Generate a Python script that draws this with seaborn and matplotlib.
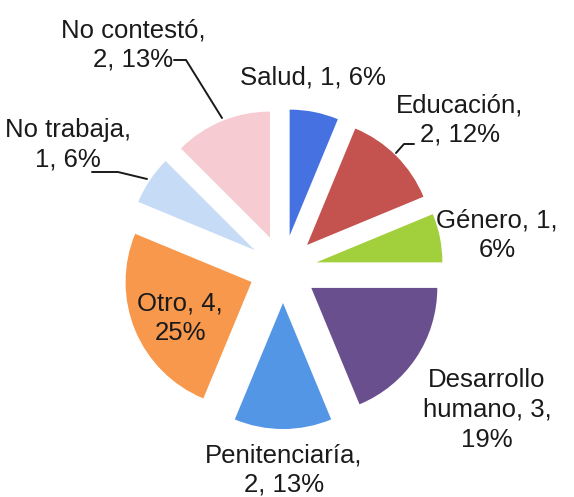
import matplotlib
matplotlib.use('Agg')
import matplotlib.pyplot as plt
import seaborn as sns

sns.set_theme(style='white')
plt.rcParams['font.family'] = ['Liberation Sans', 'DejaVu Sans']

# datos del gráfico
categorias = ['Salud', 'Educación', 'Género', 'Desarrollo humano',
              'Penitenciaría', 'Otro', 'No trabaja', 'No contestó']
valores = [1, 2, 1, 3, 2, 4, 1, 2]
porcentajes = ['6%', '12%', '6%', '19%', '13%', '25%', '6%', '13%']
colores = ['#4671E0', '#C4524E', '#A2CF3C', '#6A4F8F',
           '#5396E6', '#F7984C', '#C6DCF6', '#F6CBD1']

# textos de las etiquetas (con saltos como en el original)
etiquetas = ['Salud, {v}, {p}', 'Educación,\n{v}, {p}', 'Género, {v},\n{p}',
             'Desarrollo\nhumano, {v},\n{p}', 'Penitenciaría,\n{v}, {p}',
             'Otro, {v},\n{p}', 'No trabaja,\n{v}, {p}', 'No contestó,\n{v}, {p}']

CX, CY, R = 283, 269, 126


def px(x, y):
    """pixeles de la imagen -> coordenadas de datos"""
    return (x - CX) / R, (CY - y) / R


fig = plt.figure(figsize=(5.74, 4.97), dpi=100)
ax = fig.add_axes([0, 0, 1, 1])
ax.pie(valores, colors=colores, startangle=90, counterclock=False,
       explode=[0.27] * len(valores), radius=1.0,
       wedgeprops=dict(linewidth=0))
ax.set_xlim(-CX / R, (574 - CX) / R)
ax.set_ylim(-(497 - CY) / R, CY / R)
ax.set_aspect('equal')
ax.axis('off')

pos = [(313, 78), (460, 120), (497, 235), (487, 410),
       (284, 470), (180, 318), (68, 145), (133, 45)]
for txt, v, p, (x, y) in zip(etiquetas, valores, porcentajes, pos):
    ax.text(*px(x, y), txt.format(v=v, p=p), ha='center', va='center',
            fontsize=18.5, color='#1a1a1a', linespacing=1.3)

# líneas guía
for pts in [[(174, 60), (186, 60), (222, 118)],
            [(92, 172), (118, 172), (147, 179)],
            [(414, 144), (404, 144), (396, 153)]]:
    xs, ys = zip(*[px(a, b) for a, b in pts])
    ax.plot(xs, ys, color='#1a1a1a', lw=1.4)

fig.savefig('out.png', dpi=100)
